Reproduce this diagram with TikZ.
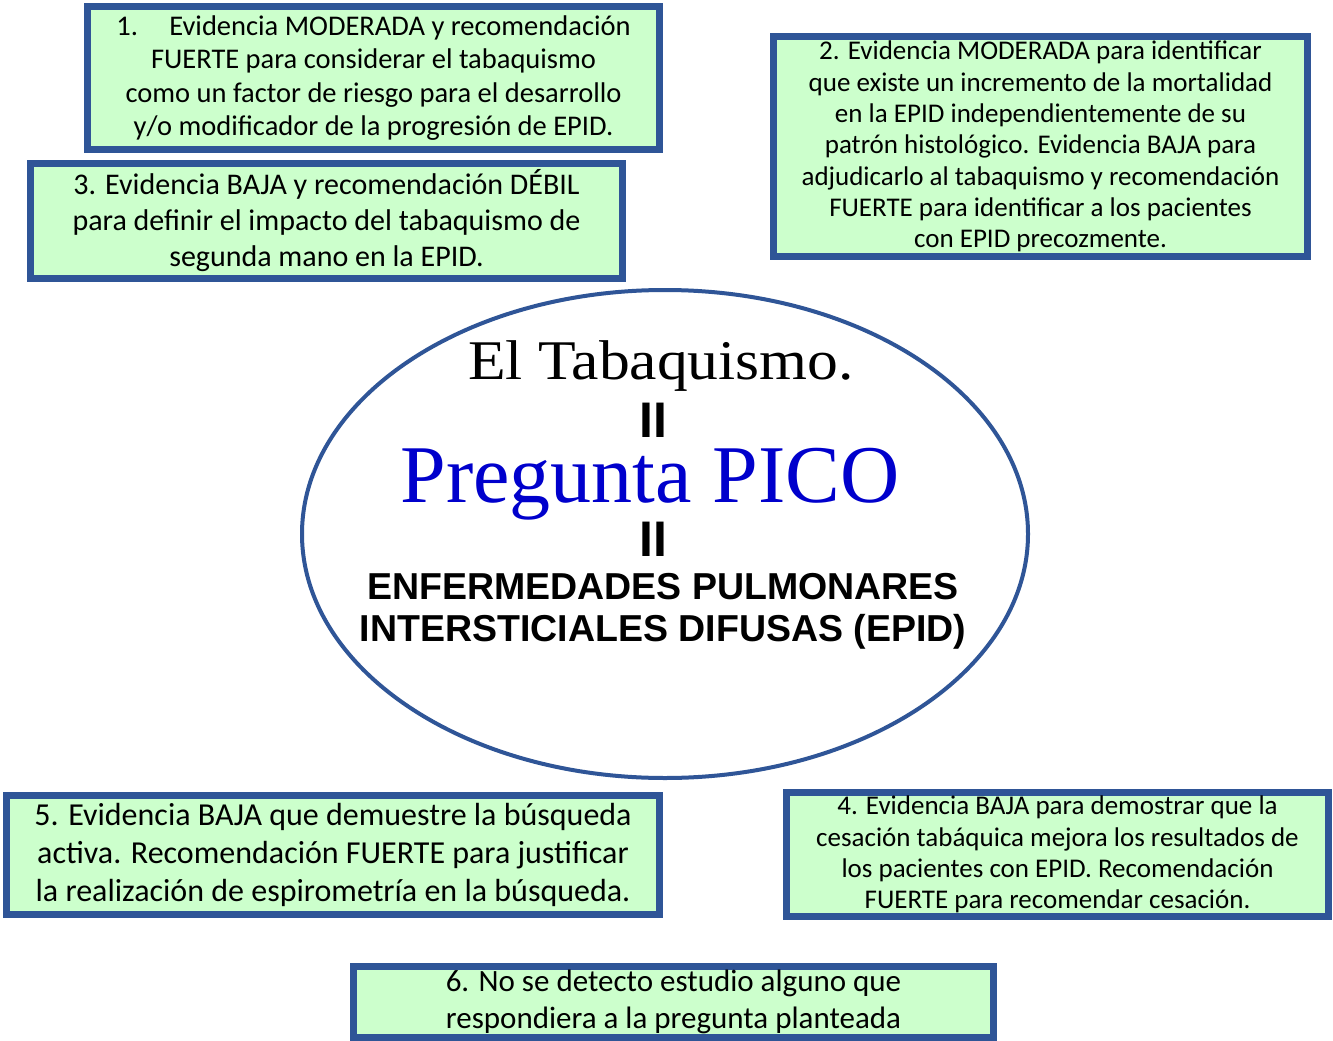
\documentclass[tikz,border=0pt]{standalone}
\usepackage{fontspec}
\setmainfont{Carlito}
\newfontfamily\tnr{Liberation Serif}
\newfontfamily\arl{Liberation Sans}
\definecolor{bordc}{HTML}{2F5597}
\definecolor{boxg}{HTML}{CCFFCC}
\definecolor{picob}{HTML}{0000CC}
\tikzset{
  gbox/.style={draw=bordc, line width=7pt, fill=boxg, inner sep=0pt, align=center, text=black},
  ringc/.style={draw=bordc, line width=4pt},
  eqs/.style={inner sep=0pt, anchor=base, font=\arl\bfseries\fontsize{50}{50}\selectfont}
}
\begin{document}
\begin{tikzpicture}[x=1pt,y=-1pt]
\useasboundingbox (0,0) rectangle (1333,1041);
\fill[white] (0,0) rectangle (1333,1041);
% ellipse
\draw[ringc] (665,534) ellipse [x radius=363, y radius=244];
\node[inner sep=0pt, anchor=base, font=\tnr\fontsize{56}{56}\selectfont, xscale=1.1] (t1) at (661,379) {El Tabaquismo.};
\node[eqs] (e1) at (653,437) {II};
\node[inner sep=0pt, anchor=base, font=\tnr\fontsize{82}{82}\selectfont, text=picob] (t2) at (650,502) {Pregunta PICO};
\node[eqs] (e2) at (653,556) {II};
\node[inner sep=0pt, align=center, font=\arl\bfseries\fontsize{37.5}{42}\selectfont] (t3) at (663,611) {ENFERMEDADES PULMONARES\\INTERSTICIALES DIFUSAS (EPID)};
% boxes
\node[gbox, minimum width=572, minimum height=143, font=\fontsize{28.5}{33.5}\selectfont] (b1) at (373.5,78)
 {1.\hspace{1.1em}Evidencia MODERADA y recomendación\\FUERTE para considerar el tabaquismo\\como un factor de riesgo para el desarrollo\\y/o modificador de la progresión de EPID.};
\node[gbox, minimum width=592, minimum height=115, font=\fontsize{30}{36}\selectfont] (b3) at (326.5,221)
 {3. Evidencia BAJA y recomendación DÉBIL\\para definir el impacto del tabaquismo de\\segunda mano en la EPID.};
\node[gbox, minimum width=534, minimum height=220, font=\fontsize{27}{31.3}\selectfont] (b2) at (1040.5,146.5)
 {2. Evidencia MODERADA para identificar\\que existe un incremento de la mortalidad\\en la EPID independientemente de su\\patrón histológico. Evidencia BAJA para\\adjudicarlo al tabaquismo y recomendación\\FUERTE para identificar a los pacientes\\con EPID precozmente.};
\node[gbox, minimum width=653, minimum height=119, font=\fontsize{32}{38}\selectfont] (b5) at (333,855)
 {5. Evidencia BAJA que demuestre la búsqueda\\activa. Recomendación FUERTE para justificar\\la realización de espirometría en la búsqueda.};
\node[gbox, minimum width=542, minimum height=124, font=\fontsize{27}{31.3}\selectfont] (b4) at (1057.5,854.5)
 {4. Evidencia BAJA para demostrar que la\\cesación tabáquica mejora los resultados de\\los pacientes con EPID. Recomendación\\FUERTE para recomendar cesación.};
\node[gbox, minimum width=640, minimum height=71, font=\fontsize{31}{37}\selectfont] (b6) at (673.5,1002)
 {6. No se detecto estudio alguno que\\respondiera a la pregunta planteada};
\end{tikzpicture}
\end{document}
